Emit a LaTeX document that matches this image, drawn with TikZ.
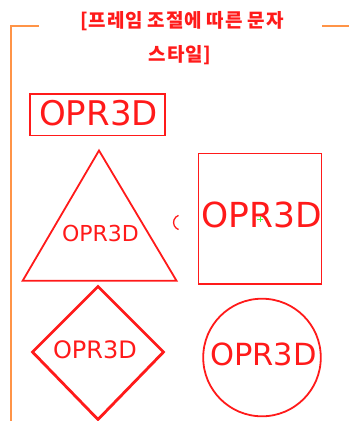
\documentclass[tikz,border=0pt]{standalone}
\usepackage{fontspec}
\setmainfont{DejaVu Sans}
\newfontfamily\kr{Noto Sans CJK KR}[LetterSpace=4]
\newfontfamily\dv{DejaVu Sans}
\usetikzlibrary{shapes.geometric}
\definecolor{frameor}{HTML}{FF9447}
\definecolor{shred}{HTML}{FF1A1A}
\tikzset{
  shp/.style={draw=shred, line width=1.8pt},
  lbl/.style={text=shred, inner sep=0pt, font=\dv},
  ttl/.style={text=shred, inner sep=0pt, font=\kr\bfseries\fontsize{19}{21}\selectfont},
  fr/.style={draw=frameor, line width=2pt}
}
\begin{document}
\begin{tikzpicture}[x=1pt,y=-1pt]
\useasboundingbox (0,0) rectangle (349,421);
% frame
\coordinate (f1) at (39,25.7);
\coordinate (f0) at (11,25.7);
\coordinate (fb) at (11,421);
\coordinate (f2) at (322,25.7);
\coordinate (f3) at (349,25.7);
\draw[fr] (f1) -- (f0) -- (fb);
\draw[fr] (f2) -- (f3);
% title
\node[ttl] (t1) at (182,21) {[프레임 조절에 따른 문자};
\node[ttl] (t2) at (180,55) {스타일]};
% rectangle
\draw[shp] (30,94) rectangle (165,135.5);
\node[lbl, font=\dv\fontsize{34}{36}\selectfont] (r) at (98.5,113) {OPR3D};
% triangle
\coordinate (ta) at (99,150.5);
\coordinate (tl) at (22.7,280.7);
\coordinate (tr) at (176.5,280.7);
\draw[shp, line join=miter] (ta) -- (tr) -- (tl) -- cycle;
\node[lbl, font=\dv\fontsize{22}{24}\selectfont] (tt) at (100.5,233) {OPR3D};
% stray arc
\draw[shred, line width=1.3pt] (178.5,229.5) arc[start angle=110, end angle=250, radius=7.5];
% square
\draw[shp] (198.5,153.5) rectangle (321.5,284);
\node[lbl, font=\dv\fontsize{34.5}{36}\selectfont] (sq) at (262,214.5) {OPR3D};
\draw[green!70!white, line width=0.6pt] (257,219) -- (263,219) (260,216) -- (260,222);
% diamond
\coordinate (da) at (98,286.5);
\coordinate (dr) at (163.5,352);
\coordinate (db) at (98,419.5);
\coordinate (dl) at (32.5,352);
\draw[draw=shred, line width=2.8pt, line join=miter] (da) -- (dr) -- (db) -- (dl) -- cycle;
\node[lbl, font=\dv\fontsize{24}{26}\selectfont] (dd) at (95,350) {OPR3D};
% circle
\draw[shp] (262,357.5) circle[radius=58.8];
\node[lbl, font=\dv\fontsize{30.5}{32}\selectfont] (cc) at (263.5,354.5) {OPR3D};
\end{tikzpicture}
\end{document}
